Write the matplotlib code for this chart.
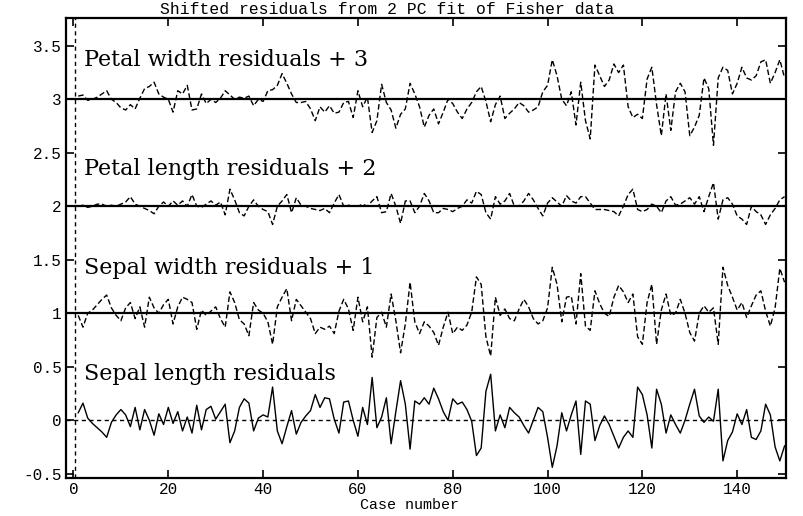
import numpy as np
import matplotlib
matplotlib.use("Agg")
import matplotlib.pyplot as plt

case = np.arange(1, 151)

sepal_length = [
    0.07, 0.16, 0.02, -0.03, -0.07, -0.11, -0.16, -0.02, 0.05, 0.10,
    0.05, -0.06, 0.12, -0.09, 0.10, 0.00, -0.14, 0.06, -0.04, 0.12,
    -0.03, 0.08, -0.10, 0.03, -0.12, 0.14, -0.09, 0.10, 0.13, 0.01,
    0.08, 0.15, -0.21, -0.10, 0.12, 0.20, 0.16, -0.10, 0.02, 0.05,
    0.03, 0.31, -0.10, -0.22, -0.06, 0.09, -0.13, -0.02, 0.04, 0.09,
    0.24, 0.12, 0.21, 0.20, 0.01, -0.12, 0.17, 0.18, 0.00, -0.15,
    0.12, -0.04, 0.40, -0.07, 0.03, 0.21, -0.22, 0.08, 0.37, 0.15,
    -0.27, 0.18, 0.15, 0.21, 0.15, 0.30, 0.20, 0.08, 0.00, 0.20,
    0.15, 0.17, 0.10, -0.01, -0.33, -0.26, 0.27, 0.43, -0.10, 0.05,
    -0.07, 0.12, 0.07, 0.03, -0.05, -0.12, 0.00, 0.12, 0.08, -0.16,
    -0.44, -0.24, 0.07, -0.10, 0.05, 0.18, -0.32, 0.18, 0.15, -0.19,
    -0.05, 0.04, -0.04, -0.15, -0.26, -0.16, -0.10, -0.16, 0.31, 0.24,
    0.05, -0.26, 0.29, 0.15, -0.12, 0.05, -0.04, -0.12, 0.00, 0.15,
    0.29, 0.04, -0.02, 0.03, -0.01, 0.29, -0.38, -0.19, -0.11, 0.06,
    -0.04, 0.10, -0.16, -0.18, -0.10, 0.15, 0.05, -0.25, -0.38, -0.24,
]

sepal_width = [
    -0.02, -0.13, 0.00, 0.03, 0.08, 0.13, 0.17, 0.05, -0.02, -0.07,
    0.05, 0.10, -0.05, 0.06, -0.13, 0.15, 0.05, 0.00, 0.08, 0.13,
    -0.10, 0.06, 0.15, 0.13, 0.10, -0.15, 0.03, -0.02, 0.02, 0.06,
    -0.05, -0.13, 0.20, 0.10, -0.06, -0.10, -0.21, 0.10, 0.03, 0.00,
    -0.08, -0.29, 0.06, 0.15, 0.23, -0.07, 0.13, 0.07, 0.01, -0.05,
    -0.19, -0.13, -0.15, -0.12, -0.19, 0.02, 0.13, 0.04, -0.16, 0.15,
    -0.08, 0.06, -0.41, -0.04, 0.01, -0.13, 0.18, -0.07, -0.37, -0.10,
    0.29, -0.08, -0.19, -0.08, -0.12, -0.18, -0.30, -0.13, 0.01, -0.19,
    -0.13, -0.16, -0.11, 0.01, 0.34, 0.27, -0.22, -0.40, 0.15, -0.02,
    0.04, -0.05, -0.07, 0.04, 0.13, 0.06, -0.05, -0.10, -0.07, 0.05,
    0.43, 0.27, -0.08, 0.15, 0.16, -0.10, 0.37, -0.12, -0.16, 0.21,
    0.09, 0.00, -0.03, 0.15, 0.26, 0.20, 0.10, 0.18, -0.22, -0.29,
    0.10, 0.27, -0.29, 0.03, 0.18, -0.02, 0.00, 0.13, 0.00, -0.18,
    -0.26, 0.00, 0.07, 0.01, 0.05, -0.29, 0.43, 0.26, 0.15, 0.03,
    0.10, -0.04, 0.07, 0.17, 0.21, 0.02, -0.12, 0.05, 0.42, 0.29,
]

petal_length = [
    0.00, 0.01, -0.01, 0.00, 0.02, 0.02, 0.00, 0.01, 0.00, 0.02,
    0.04, 0.09, 0.02, 0.00, -0.02, -0.04, -0.07, 0.00, 0.04, 0.00,
    0.05, 0.01, 0.05, 0.00, 0.11, 0.00, -0.01, 0.02, 0.05, 0.01,
    0.04, -0.08, 0.16, 0.06, -0.06, -0.09, 0.00, 0.06, 0.00, -0.03,
    -0.05, -0.17, 0.00, 0.05, 0.11, -0.06, 0.08, 0.01, 0.00, -0.02,
    -0.03, -0.04, -0.02, -0.06, 0.03, 0.11, 0.00, 0.01, 0.00, 0.00,
    0.02, 0.00, 0.05, 0.09, -0.06, -0.05, 0.12, 0.00, -0.16, 0.05,
    0.05, -0.06, 0.00, 0.12, 0.05, -0.06, -0.06, -0.02, -0.03, -0.05,
    -0.02, 0.00, 0.06, 0.03, 0.14, 0.11, -0.06, -0.12, 0.09, 0.02,
    0.05, 0.12, 0.00, 0.00, 0.05, 0.12, 0.06, -0.02, -0.09, 0.03,
    0.08, 0.04, 0.00, 0.10, 0.05, 0.03, 0.09, 0.09, 0.03, -0.03,
    -0.03, -0.03, -0.04, -0.05, -0.09, 0.00, 0.11, 0.16, -0.03, -0.05,
    -0.03, 0.02, 0.00, -0.06, 0.05, 0.09, 0.01, 0.02, 0.05, 0.08,
    0.02, 0.09, -0.05, 0.09, 0.22, -0.12, 0.06, 0.08, 0.02, -0.09,
    -0.12, -0.17, 0.00, -0.05, -0.08, -0.17, -0.08, -0.02, 0.06, 0.09,
]

petal_width = [
    0.03, 0.04, -0.01, 0.00, 0.02, 0.05, 0.08, 0.00, -0.03, -0.08,
    -0.10, -0.05, -0.09, 0.01, 0.10, 0.12, 0.16, 0.05, 0.02, 0.00,
    -0.12, 0.08, 0.05, 0.13, -0.10, -0.09, 0.05, -0.04, 0.00, -0.03,
    0.01, 0.08, 0.04, 0.00, 0.02, 0.01, 0.03, -0.06, 0.00, -0.02,
    0.08, 0.09, 0.13, 0.24, 0.15, 0.05, -0.03, -0.03, -0.02, -0.09,
    -0.20, -0.07, -0.12, -0.06, -0.13, -0.12, -0.03, -0.02, -0.17, 0.08,
    -0.07, 0.02, -0.31, -0.20, 0.14, -0.03, -0.10, -0.27, -0.14, -0.09,
    0.15, 0.05, -0.07, -0.26, -0.15, -0.09, -0.23, -0.12, 0.00, -0.04,
    -0.12, -0.18, -0.09, -0.03, 0.07, 0.12, -0.02, -0.21, -0.05, 0.03,
    -0.18, -0.13, -0.09, -0.03, -0.06, -0.12, -0.10, -0.07, 0.07, 0.13,
    0.37, 0.22, 0.00, -0.06, 0.07, -0.24, 0.16, -0.20, -0.37, 0.32,
    0.22, 0.12, 0.18, 0.33, 0.25, 0.32, -0.07, -0.17, -0.14, -0.18,
    0.19, 0.30, -0.05, -0.34, 0.05, -0.29, 0.07, 0.15, 0.07, -0.34,
    -0.26, -0.15, 0.20, 0.10, -0.43, 0.20, 0.30, 0.27, 0.05, 0.15,
    0.30, 0.20, 0.18, 0.22, 0.35, 0.37, 0.15, 0.25, 0.37, 0.20,
]

labels = ["Sepal length residuals", "Sepal width residuals + 1",
          "Petal length residuals + 2", "Petal width residuals + 3"]
offsets = [0, 1, 2, 3]
series = [sepal_length, sepal_width, petal_length, petal_width]

xticks = [0, 20, 40, 60, 80, 100, 120, 140]
yticks = [-0.5, 0, 0.5, 1, 1.5, 2, 2.5, 3, 3.5]
ytick_labels = ["-0.5", "0", "0.5", "1", "1.5", "2", "2.5", "3", "3.5"]

mono = "Liberation Mono"
serif = "DejaVu Serif"

W, H = 804, 516
fig = plt.figure(figsize=(W / 100, H / 100), dpi=100)
ax = fig.add_axes([66 / W, 38 / H, 720 / W, 460 / H])

# reference lines
ax.axhline(0, color="black", lw=1.0, ls=(0, (3, 2.5)))
for off in [1, 2, 3]:
    ax.axhline(off, color="black", lw=1.6)
ax.axvline(0.3, color="black", lw=1.0, ls=(0, (3, 2.5)))

styles = ["-", (0, (4, 2)), (0, (4, 2)), (0, (4, 2))]
for vals, off, st in zip(series, offsets, styles):
    ax.plot(case, np.array(vals) + off, color="black", lw=1.0, ls=st)

text_y = [0.38, 1.37, 2.29, 3.31]
for lab, ty in zip(labels, text_y):
    ax.text(2.2, ty, lab, family=serif, fontsize=16, va="baseline", ha="left")

ax.set_xlim(-1.58, 150.3)
ax.set_ylim(-0.54, 3.76)
ax.set_xticks(xticks)
ax.set_yticks(yticks)
ax.set_yticklabels(ytick_labels)
ax.tick_params(direction="in", top=True, right=True, length=6, width=1.2,
               labelsize=11.5, pad=3)
for lab in ax.get_xticklabels() + ax.get_yticklabels():
    lab.set_family(mono)
for sp in ax.spines.values():
    sp.set_linewidth(1.6)

fig.text(387 / W, 1 - 10 / H, "Shifted residuals from 2 PC fit of Fisher data",
         family=mono, fontsize=11.8, ha="center", va="center")
fig.text(410 / W, 1 - 505 / H, "Case number", family=mono, fontsize=10.8,
         ha="center", va="center")

fig.savefig("out.png", dpi=100)
